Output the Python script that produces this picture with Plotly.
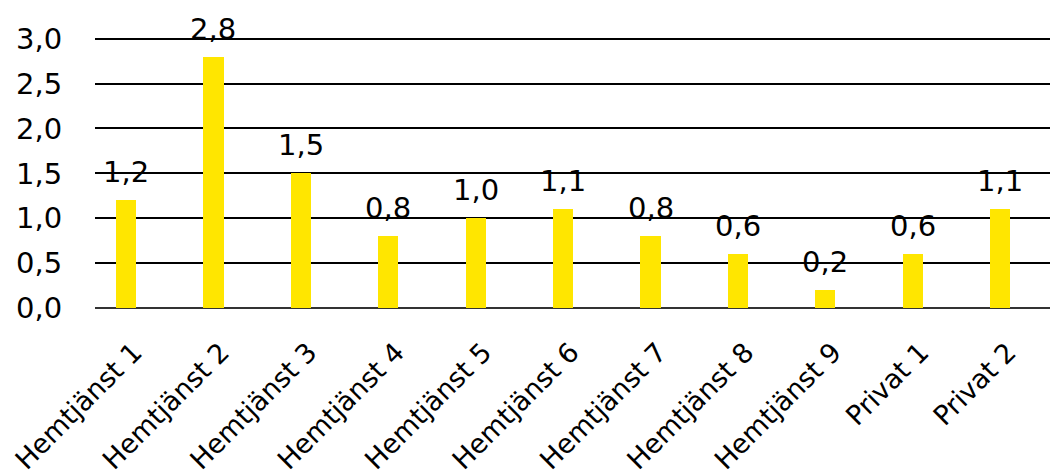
import plotly.graph_objects as go

categories = ["Hemtjänst 1", "Hemtjänst 2", "Hemtjänst 3", "Hemtjänst 4", "Hemtjänst 5",
              "Hemtjänst 6", "Hemtjänst 7", "Hemtjänst 8", "Hemtjänst 9", "Privat 1", "Privat 2"]
values = [1.2, 2.8, 1.5, 0.8, 1.0, 1.1, 0.8, 0.6, 0.2, 0.6, 1.1]
y_ticks = [0, 0.5, 1.0, 1.5, 2.0, 2.5, 3.0]
y_tick_labels = ["0,0", "0,5", "1,0", "1,5", "2,0", "2,5", "3,0"]

FONT = "DejaVu Sans, Verdana, sans-serif"
FS = 29
FSX = 27
fig = go.Figure()
fig.add_trace(go.Bar(
    x=categories, y=values, marker=dict(color="#FFE600", line=dict(width=0)),
    width=0.23, hoverinfo="skip", cliponaxis=False))

for c, v in zip(categories, values):
    fig.add_annotation(x=c, y=v, text=f"{v:.1f}".replace(".", ","), showarrow=False,
                       yanchor="bottom", yshift=9,
                       font=dict(family=FONT, size=FS, color="#000000"))

fig.update_layout(
    width=1050, height=474,
    margin=dict(l=95, r=0, t=36, b=166),
    paper_bgcolor="white", plot_bgcolor="white",
    showlegend=False,
    font=dict(family=FONT, size=FS, color="#000000"),
    bargap=0,
)
fig.update_xaxes(
    type="category", range=[-0.355, 10.57], tickangle=-45, automargin=False,
    showgrid=False, showline=False, zeroline=False, ticks="",
    ticklabelstandoff=22, ticklabelshift=8,
    tickfont=dict(family=FONT, size=FSX, color="#000000"),
)
fig.update_yaxes(
    range=[0, 3.03], tickvals=y_ticks, ticktext=y_tick_labels, automargin=False,
    showgrid=True, gridcolor="#000000", gridwidth=1.5,
    zeroline=True, zerolinecolor="#333333", zerolinewidth=2,
    showline=False, ticks="outside", ticklen=26, tickcolor="rgba(0,0,0,0)",
    tickfont=dict(family=FONT, size=FS, color="#000000"),
)

fig.write_html("out.html")
